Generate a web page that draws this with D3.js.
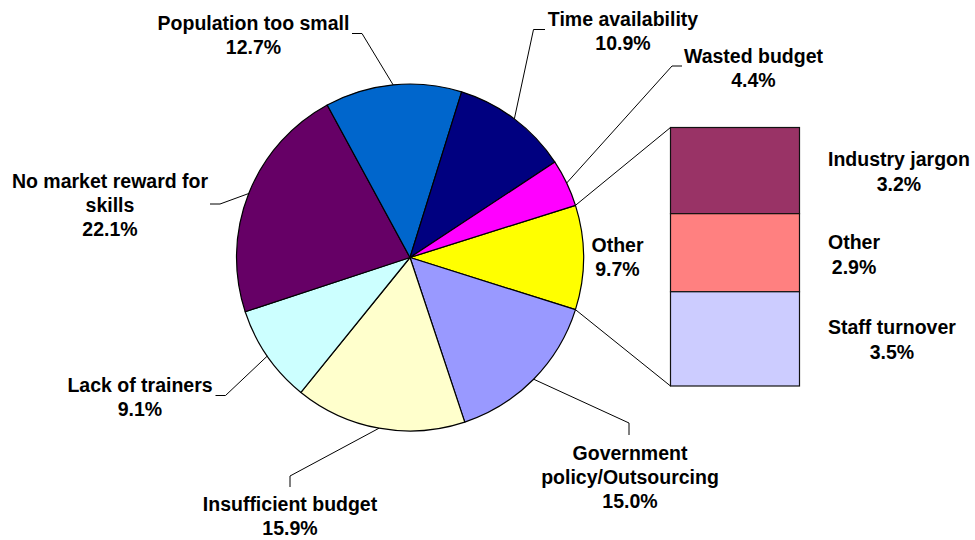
<!DOCTYPE html>
<html>
<head>
<meta charset="utf-8">
<script src="https://cdn.jsdelivr.net/npm/d3@7/dist/d3.min.js"></script>
<style>
  body { margin: 0; background: #fff; }
  svg { display: block; }
  text { font-family: "Liberation Sans", Arial, sans-serif; font-weight: bold; font-size: 19.5px; fill: #000; }
</style>
</head>
<body>
<svg id="chart" width="975" height="540"></svg>
<script>
// Main pie: "Other" first so it can be centred on the right-hand side
const pieCategories = ["Other", "Government policy/Outsourcing", "Insufficient budget", "Lack of trainers",
  "No market reward for skills", "Population too small", "Time availability", "Wasted budget"];
const pieValues = [9.7, 15.0, 15.9, 9.1, 22.1, 12.7, 10.9, 4.4];
const pieColors = ["#FFFF00", "#9999FF", "#FFFFCC", "#CCFFFF", "#660066", "#0066CC", "#000080", "#FF00FF"];
const pieLabelLines = [["Other"], ["Government", "policy/Outsourcing"], ["Insufficient budget"], ["Lack of trainers"],
  ["No market reward for", "skills"], ["Population too small"], ["Time availability"], ["Wasted budget"]];

// Breakdown of "Other" shown as a stacked bar
const barCategories = ["Industry jargon", "Other", "Staff turnover"];
const barValues = [3.2, 2.9, 3.5];
const barColors = ["#993366", "#FF8080", "#CCCCFF"];

// Label placement: anchor (centre x, first baseline) and leader elbow/end points
const pieLabelLayout = [
  { x: 617.5, y: 252, leader: null },
  { x: 630, y: 460, leader: [[629, 423], [629, 435]] },
  { x: 290, y: 511, leader: [[290, 476], [290, 487]] },
  { x: 140, y: 392, leader: [[225.5, 395.5], [215.5, 395.5]] },
  { x: 110, y: 188, leader: [[220, 204], [210, 204]] },
  { x: 253.5, y: 29.5, leader: [[362, 33.5], [352, 33.5]] },
  { x: 623, y: 25.5, leader: [[533.5, 29.5], [545, 29.5]] },
  { x: 753.5, y: 63, leader: [[672, 66], [682, 66]] }
];
const barLabelLeft = 828;
const barLabelBaselines = [165.5, 249, 334];

const cx = 410, cy = 257.5, r = 173.5;
const bar = { x0: 670.5, x1: 799.5, y0: 127.5, y1: 386 };
const lineH = 24;
const fmt = v => d3.format(".1f")(v) + "%";

const svg = d3.select("#chart");

const total = d3.sum(pieValues);
const otherSpan = pieValues[0] / total * 2 * Math.PI;
const start = Math.PI / 2 - otherSpan / 2;

const pie = d3.pie().sort(null).value(d => d)
  .startAngle(start).endAngle(start + 2 * Math.PI);
const arcs = pie(pieValues);
const arc = d3.arc().innerRadius(0).outerRadius(r);

const g = svg.append("g").attr("transform", `translate(${cx},${cy})`);
g.selectAll("path.slice")
  .data(arcs)
  .join("path")
  .attr("class", "slice")
  .attr("d", arc)
  .attr("fill", (d, i) => pieColors[i])
  .attr("stroke", "#000")
  .attr("stroke-width", 1.2)
  .attr("stroke-linejoin", "round");

const polar = (a, rad) => [cx + rad * Math.sin(a), cy - rad * Math.cos(a)];

// Stacked bar for the "Other" breakdown
const y = d3.scaleLinear().domain([0, d3.sum(barValues)]).range([bar.y0, bar.y1]);
const cum = d3.cumsum(barValues);
const barData = barValues.map((v, i) => ({ v, i, a: cum[i] - v, b: cum[i] }));

// Connector lines from the "Other" slice edges to the bar corners
const oArc = arcs[0];
const conn = [
  [polar(oArc.startAngle, r), [bar.x0, y(0)]],
  [polar(oArc.endAngle, r), [bar.x0, y(d3.sum(barValues))]]
];
svg.selectAll("line.conn")
  .data(conn)
  .join("line")
  .attr("class", "conn")
  .attr("x1", d => d[0][0]).attr("y1", d => d[0][1])
  .attr("x2", d => d[1][0]).attr("y2", d => d[1][1])
  .attr("stroke", "#000").attr("stroke-width", 1);

svg.selectAll("rect.seg")
  .data(barData)
  .join("rect")
  .attr("class", "seg")
  .attr("x", bar.x0)
  .attr("width", bar.x1 - bar.x0)
  .attr("y", d => y(d.a))
  .attr("height", d => y(d.b) - y(d.a))
  .attr("fill", d => barColors[d.i])
  .attr("stroke", "#111")
  .attr("stroke-width", 1.2);

// Leader lines for pie labels
const lineGen = d3.line();
arcs.forEach((d, i) => {
  const L = pieLabelLayout[i];
  if (!L.leader) return;
  const mid = (d.startAngle + d.endAngle) / 2;
  const pts = [polar(mid, r), ...L.leader];
  svg.append("path")
    .attr("d", lineGen(pts))
    .attr("fill", "none")
    .attr("stroke", "#000")
    .attr("stroke-width", 1);
});

// Pie labels: category lines then value, each line centred
arcs.forEach((d, i) => {
  const L = pieLabelLayout[i];
  const lines = [...pieLabelLines[i], fmt(pieValues[i])];
  const t = svg.append("text").attr("text-anchor", "middle");
  lines.forEach((s, k) => {
    t.append("tspan").attr("x", L.x).attr("y", L.y + k * lineH).text(s);
  });
});

// Bar labels: block starts at a fixed left edge, lines centred within the block
barData.forEach(d => {
  const lines = [barCategories[d.i], fmt(d.v)];
  const t = svg.append("text").attr("text-anchor", "middle");
  const spans = lines.map((s, k) =>
    t.append("tspan").attr("y", barLabelBaselines[d.i] + k * 25).text(s));
  const w = d3.max(spans, s => s.node().getComputedTextLength());
  spans.forEach(s => s.attr("x", barLabelLeft + w / 2));
});
</script>
</body>
</html>
